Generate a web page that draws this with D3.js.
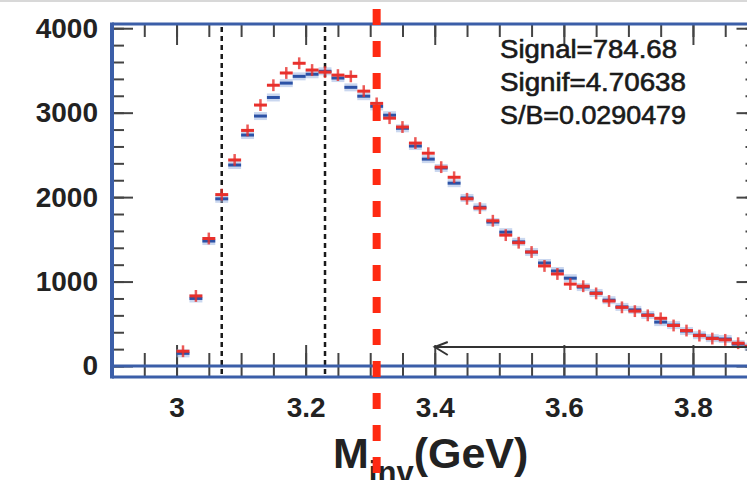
<!DOCTYPE html>
<html>
<head>
<meta charset="utf-8">
<script src="https://cdn.jsdelivr.net/npm/d3@7"></script>
<style>
  body { margin: 0; background: #fff; }
  svg { display: block; }
  text { font-family: 'Liberation Sans', Arial, sans-serif; }
</style>
</head>
<body>
<svg id="chart" width="747" height="480"></svg>
<script>
// bin centres (GeV), 0.02 wide
let binCenters = [3.01, 3.03, 3.05, 3.07, 3.09, 3.11, 3.13, 3.15, 3.17, 3.19,
  3.21, 3.23, 3.25, 3.27, 3.29, 3.31, 3.33, 3.35, 3.37, 3.39,
  3.41, 3.43, 3.45, 3.47, 3.49, 3.51, 3.53, 3.55, 3.57, 3.59,
  3.61, 3.63, 3.65, 3.67, 3.69, 3.71, 3.73, 3.75, 3.77, 3.79,
  3.81, 3.83, 3.85, 3.87, 3.89];
let blueCounts = [150, 800, 1480, 1980, 2380, 2735, 2960, 3180, 3350, 3430,
  3455, 3490, 3410, 3300, 3195, 3075, 2970, 2815, 2605, 2450,
  2345, 2165, 1990, 1880, 1705, 1585, 1470, 1350, 1220, 1125,
  1040, 935, 865, 780, 700, 665, 605, 520, 485, 415,
  365, 330, 320, 260, 230];
let redCounts = [175, 830, 1510, 2030, 2440, 2790, 3090, 3325, 3470, 3585,
  3505, 3480, 3445, 3430, 3255, 3110, 2935, 2830, 2640, 2520,
  2355, 2235, 1980, 1870, 1720, 1550, 1460, 1350, 1185, 1090,
  970, 945, 860, 770, 695, 650, 600, 565, 480, 420,
  360, 325, 310, 270, 235];
let redError = 70;
let binWidth = 0.02;

let xMajor = [3.0, 3.2, 3.4, 3.6, 3.8];
let xMinor = d3.range(58, 79).map(function(i) { return i / 20; });
let yMajor = [0, 1000, 2000, 3000, 4000];
let yMinor = d3.range(0, 4001, 200);

let cutLow = 3.07;
let cutHigh = 3.23;
let redCut = 3.31;
let arrowFrom = 3.4;
let arrowLevel = 225;

let statLines = ['Signal=784.68', 'Signif=4.70638', 'S/B=0.0290479'];

let svg = d3.select('#chart');
let frame = { left: 112, right: 757.5, top: 24, bottom: 377 };

let x = d3.scaleLinear().domain([2.9, 3.9]).range([frame.left, frame.right]);
let y = d3.scaleLinear().domain([-130, 4050]).range([frame.bottom, frame.top]);

let blue = '#3b5ea8';
let tickColor = '#444';

// light grey border at the very top
svg.append('line')
  .attr('x1', 0).attr('x2', 747).attr('y1', 1).attr('y2', 1)
  .attr('stroke', '#d8d8d8').attr('stroke-width', 2);

function styleAxis(g) {
  g.select('.domain').remove();
  g.selectAll('.tick line').attr('stroke', tickColor).attr('stroke-width', 2);
  g.selectAll('.tick text')
    .attr('fill', '#222')
    .attr('font-size', 28)
    .attr('font-weight', 'bold')
    .attr('font-family', "'Liberation Sans', Arial, sans-serif");
}

// bottom
svg.append('g')
  .attr('transform', 'translate(0,' + frame.bottom + ')')
  .call(d3.axisBottom(x).tickValues(xMinor).tickSize(-24).tickFormat(''))
  .call(styleAxis);
svg.append('g')
  .attr('transform', 'translate(0,' + frame.bottom + ')')
  .call(d3.axisBottom(x).tickValues(xMajor).tickSize(-32).tickPadding(20)
    .tickFormat(function(d) { return d3.format('')(+d.toFixed(1)); }))
  .call(styleAxis);
// top
svg.append('g')
  .attr('transform', 'translate(0,' + frame.top + ')')
  .call(d3.axisTop(x).tickValues(xMinor).tickSize(-13).tickFormat(''))
  .call(styleAxis);
svg.append('g')
  .attr('transform', 'translate(0,' + frame.top + ')')
  .call(d3.axisTop(x).tickValues(xMajor).tickSize(-21).tickFormat(''))
  .call(styleAxis);
// left
svg.append('g')
  .attr('transform', 'translate(' + frame.left + ',0)')
  .call(d3.axisLeft(y).tickValues(yMinor).tickSize(-12).tickFormat(''))
  .call(styleAxis);
svg.append('g')
  .attr('transform', 'translate(' + frame.left + ',0)')
  .call(d3.axisLeft(y).tickValues(yMajor).tickSize(-21).tickPadding(14).tickFormat(d3.format('d')))
  .call(styleAxis);
// right
svg.append('g')
  .attr('transform', 'translate(' + frame.right + ',0)')
  .call(d3.axisRight(y).tickValues(yMinor).tickSize(-12).tickFormat(''))
  .call(styleAxis);
svg.append('g')
  .attr('transform', 'translate(' + frame.right + ',0)')
  .call(d3.axisRight(y).tickValues(yMajor).tickSize(-21).tickFormat(''))
  .call(styleAxis);

// mass window cuts
svg.append('g')
  .selectAll('line')
  .data([cutLow, cutHigh])
  .enter()
  .append('line')
  .attr('x1', function(d) { return x(d); })
  .attr('x2', function(d) { return x(d); })
  .attr('y1', frame.top + 3)
  .attr('y2', frame.bottom)
  .attr('stroke', '#1a1a1a')
  .attr('stroke-width', 2.5)
  .attr('stroke-dasharray', '5,4');

let bins = binCenters.map(function(c, i) {
  return { c: c, b: blueCounts[i], r: redCounts[i] };
});

// blue histogram: light error box + dark bar
let gBlue = svg.append('g');
gBlue.selectAll('rect')
  .data(bins)
  .enter()
  .append('rect')
  .attr('x', function(d) { return x(d.c - binWidth / 2); })
  .attr('width', function(d) { return x(d.c + binWidth / 2) - x(d.c - binWidth / 2); })
  .attr('y', function(d) { return y(d.b) - 4; })
  .attr('height', 8)
  .attr('fill', '#9fb6e2')
  .attr('opacity', 0.55);
gBlue.selectAll('line')
  .data(bins)
  .enter()
  .append('line')
  .attr('x1', function(d) { return x(d.c - binWidth / 2); })
  .attr('x2', function(d) { return x(d.c + binWidth / 2); })
  .attr('y1', function(d) { return y(d.b); })
  .attr('y2', function(d) { return y(d.b); })
  .attr('stroke', '#2c52a6')
  .attr('stroke-width', 3);

// red histogram: crosses
let gRed = svg.append('g');
gRed.selectAll('line.h')
  .data(bins)
  .enter()
  .append('line')
  .attr('class', 'h')
  .attr('x1', function(d) { return x(d.c - binWidth / 2); })
  .attr('x2', function(d) { return x(d.c + binWidth / 2); })
  .attr('y1', function(d) { return y(d.r); })
  .attr('y2', function(d) { return y(d.r); })
  .attr('stroke', '#e8302c')
  .attr('stroke-width', 3);
gRed.selectAll('line.v')
  .data(bins)
  .enter()
  .append('line')
  .attr('class', 'v')
  .attr('x1', function(d) { return x(d.c); })
  .attr('x2', function(d) { return x(d.c); })
  .attr('y1', function(d) { return y(d.r - redError); })
  .attr('y2', function(d) { return y(d.r + redError); })
  .attr('stroke', '#e8302c')
  .attr('stroke-width', 2.5)
  .attr('opacity', 0.8);

// frame (blue)
svg.append('line')
  .attr('x1', frame.left).attr('x2', 747)
  .attr('y1', frame.top).attr('y2', frame.top)
  .attr('stroke', blue).attr('stroke-width', 3);
svg.append('line')
  .attr('x1', frame.left).attr('x2', 747)
  .attr('y1', frame.bottom).attr('y2', frame.bottom)
  .attr('stroke', blue).attr('stroke-width', 3);
svg.append('line')
  .attr('x1', frame.left).attr('x2', 747)
  .attr('y1', y(0)).attr('y2', y(0))
  .attr('stroke', blue).attr('stroke-width', 3);
svg.append('line')
  .attr('x1', frame.left).attr('x2', frame.left)
  .attr('y1', frame.top - 1.5).attr('y2', frame.bottom + 1.5)
  .attr('stroke', blue).attr('stroke-width', 4);

// arrow
let ay = y(arrowLevel);
let ax = x(arrowFrom);
svg.append('line')
  .attr('x1', ax).attr('x2', 747)
  .attr('y1', ay).attr('y2', ay)
  .attr('stroke', '#333').attr('stroke-width', 2);
svg.append('path')
  .attr('d', 'M' + (ax + 13) + ',' + (ay - 5) + 'L' + ax + ',' + ay + 'L' + (ax + 13) + ',' + (ay + 8))
  .attr('fill', 'none')
  .attr('stroke', '#333')
  .attr('stroke-width', 2);

// fit result text
let statWidths = [177, 186, 186];
svg.append('g')
  .selectAll('text')
  .data(statLines)
  .enter()
  .append('text')
  .attr('x', 500)
  .attr('y', function(d, i) { return 58 + i * 33; })
  .attr('font-size', 25)
  .attr('fill', '#1a1a1a')
  .attr('stroke', '#1a1a1a')
  .attr('stroke-width', 0.6)
  .attr('textLength', function(d, i) { return statWidths[i]; })
  .attr('lengthAdjust', 'spacingAndGlyphs')
  .text(function(d) { return d; });

// axis title (subscript runs off the bottom edge, as in the original)
let title = svg.append('text')
  .attr('x', 333)
  .attr('y', 468)
  .attr('font-size', 43)
  .attr('font-weight', 'bold')
  .attr('fill', '#222');
title.append('tspan').text('M');
title.append('tspan').attr('font-size', 31).attr('dy', 15).text('inv');
title.append('tspan').attr('dy', -15).text('(GeV)');

// red dashed marker line on top of everything
svg.append('line')
  .attr('x1', x(redCut)).attr('x2', x(redCut))
  .attr('y1', 9).attr('y2', 480)
  .attr('stroke', '#ff2a12')
  .attr('stroke-width', 8)
  .attr('stroke-dasharray', '16,16');
</script>
</body>
</html>
